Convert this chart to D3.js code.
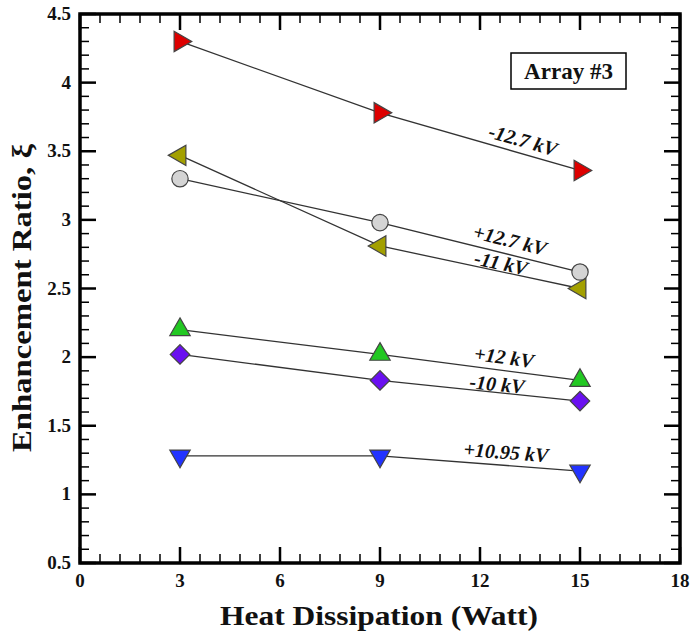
<!DOCTYPE html>
<html>
<head>
  <script src="https://cdn.jsdelivr.net/npm/d3@7"></script>
  <style>
    body { margin: 0; background: #fff; }
    text { font-family: "Liberation Serif", "Times New Roman", serif; font-weight: bold; fill: #111; }
  </style>
</head>
<body>
  <div id="chart"></div>
  <script>
    // data
    const heat = [3, 9, 15];
    const seriesNames = ["-12.7 kV", "-11 kV", "+12.7 kV", "+12 kV", "-10 kV", "+10.95 kV"];
    const neg127 = [4.30, 3.78, 3.36];
    const neg11 = [3.47, 2.81, 2.50];
    const pos127 = [3.30, 2.98, 2.62];
    const pos12 = [2.20, 2.02, 1.83];
    const neg10 = [2.02, 1.83, 1.68];
    const pos1095 = [1.28, 1.28, 1.17];
    const xTicks = [0, 3, 6, 9, 12, 15, 18];
    const yTicks = [0.5, 1, 1.5, 2, 2.5, 3, 3.5, 4, 4.5];

    const width = 691, height = 637;
    const margin = { top: 14, right: 11, bottom: 74, left: 80 };
    const w = width - margin.left - margin.right;
    const h = height - margin.top - margin.bottom;

    const x = d3.scaleLinear().domain([0, 18]).range([0, w]);
    const y = d3.scaleLinear().domain([0.5, 4.5]).range([h, 0]);

    const svg = d3.select("#chart").append("svg")
      .attr("width", width).attr("height", height);
    const g = svg.append("g").attr("transform", `translate(${margin.left},${margin.top})`);

    const series = [
      { name: seriesNames[0], values: neg127, symbol: "right", color: "#dd0000", label: [523, 140, 15.9] },
      { name: seriesNames[1], values: neg11, symbol: "left", color: "#a3a000", label: [501, 263, 12] },
      { name: seriesNames[2], values: pos127, symbol: "circle", color: "#d4d4d4", label: [510, 240, 14] },
      { name: seriesNames[3], values: pos12, symbol: "up", color: "#22c822", label: [504, 357, 7.7] },
      { name: seriesNames[4], values: neg10, symbol: "diamond", color: "#6a10f0", label: [497, 384, 5.7] },
      { name: seriesNames[5], values: pos1095, symbol: "down", color: "#2233ff", label: [506, 452, 4.3] }
    ];

    // minor + major ticks, drawn inward on all four sides
    const minorX = d3.range(0, 18.001, 0.6);
    const minorY = d3.range(0.5, 4.501, 0.1);
    const axes = g.append("g").attr("stroke", "#000");
    minorX.forEach(v => {
      const major = xTicks.some(t => Math.abs(t - v) < 1e-6);
      const len = major ? 16 : 9;
      axes.append("line").attr("x1", x(v)).attr("x2", x(v)).attr("y1", h).attr("y2", h - len).attr("stroke-width", major ? 2.5 : 1.5);
      axes.append("line").attr("x1", x(v)).attr("x2", x(v)).attr("y1", 0).attr("y2", len).attr("stroke-width", major ? 2.5 : 1.5);
    });
    minorY.forEach(v => {
      const major = yTicks.some(t => Math.abs(t - v) < 1e-6);
      const len = major ? 16 : 9;
      axes.append("line").attr("y1", y(v)).attr("y2", y(v)).attr("x1", 0).attr("x2", len).attr("stroke-width", major ? 2.5 : 1.5);
      axes.append("line").attr("y1", y(v)).attr("y2", y(v)).attr("x1", w).attr("x2", w - len).attr("stroke-width", major ? 2.5 : 1.5);
    });
    g.append("rect").attr("width", w).attr("height", h)
      .attr("fill", "none").attr("stroke", "#000").attr("stroke-width", 3.5);

    // tick labels
    g.selectAll(".xt").data(xTicks).enter().append("text")
      .attr("x", d => x(d)).attr("y", h + 24)
      .attr("text-anchor", "middle").attr("font-size", 19).text(d => d);
    g.selectAll(".yt").data(yTicks).enter().append("text")
      .attr("x", -9).attr("y", d => y(d) + 6)
      .attr("text-anchor", "end").attr("font-size", 19).text(d => d);

    // axis titles
    svg.append("text").attr("x", 220).attr("y", 625)
      .attr("font-size", 28).attr("textLength", 318).attr("lengthAdjust", "spacingAndGlyphs")
      .text("Heat Dissipation (Watt)");
    svg.append("text").attr("transform", "translate(31,452) rotate(-90)")
      .attr("font-size", 28).attr("textLength", 308).attr("lengthAdjust", "spacingAndGlyphs")
      .text("Enhancement Ratio, ξ");

    // lines
    const line = d3.line().x((d, i) => x(heat[i])).y(d => y(d));
    series.forEach(s => {
      g.append("path").datum(s.values).attr("d", line)
        .attr("fill", "none").attr("stroke", "#333").attr("stroke-width", 1.3);
    });

    // markers
    const tri = d3.symbol().type(d3.symbolTriangle).size(180);
    function markerPath(kind) {
      if (kind === "circle") return d3.symbol().type(d3.symbolCircle).size(210)();
      if (kind === "diamond") return d3.symbol().type(d3.symbolSquare).size(190)();
      return tri();
    }
    const rot = { up: 0, down: 180, right: 90, left: -90, diamond: 45, circle: 0 };
    series.forEach(s => {
      g.selectAll(null).data(s.values).enter().append("path")
        .attr("d", markerPath(s.symbol))
        .attr("transform", (d, i) => `translate(${x(heat[i])},${y(d)}) rotate(${rot[s.symbol]})`)
        .attr("fill", s.color).attr("stroke", "#444").attr("stroke-width", 1.2);
    });

    // series labels along the lines
    series.forEach(s => {
      svg.append("text")
        .attr("transform", `translate(${s.label[0]},${s.label[1]}) rotate(${s.label[2]})`)
        .attr("text-anchor", "middle").attr("dy", "0.35em")
        .attr("font-size", 20).attr("font-style", "italic")
        .attr("fill", "#14203a").text(s.name);
    });

    // box
    svg.append("rect").attr("x", 511).attr("y", 53).attr("width", 115).attr("height", 36)
      .attr("fill", "#fff").attr("stroke", "#000").attr("stroke-width", 1.5);
    svg.append("text").attr("x", 568.5).attr("y", 79)
      .attr("text-anchor", "middle").attr("font-size", 23).text("Array #3");
  </script>
</body>
</html>
